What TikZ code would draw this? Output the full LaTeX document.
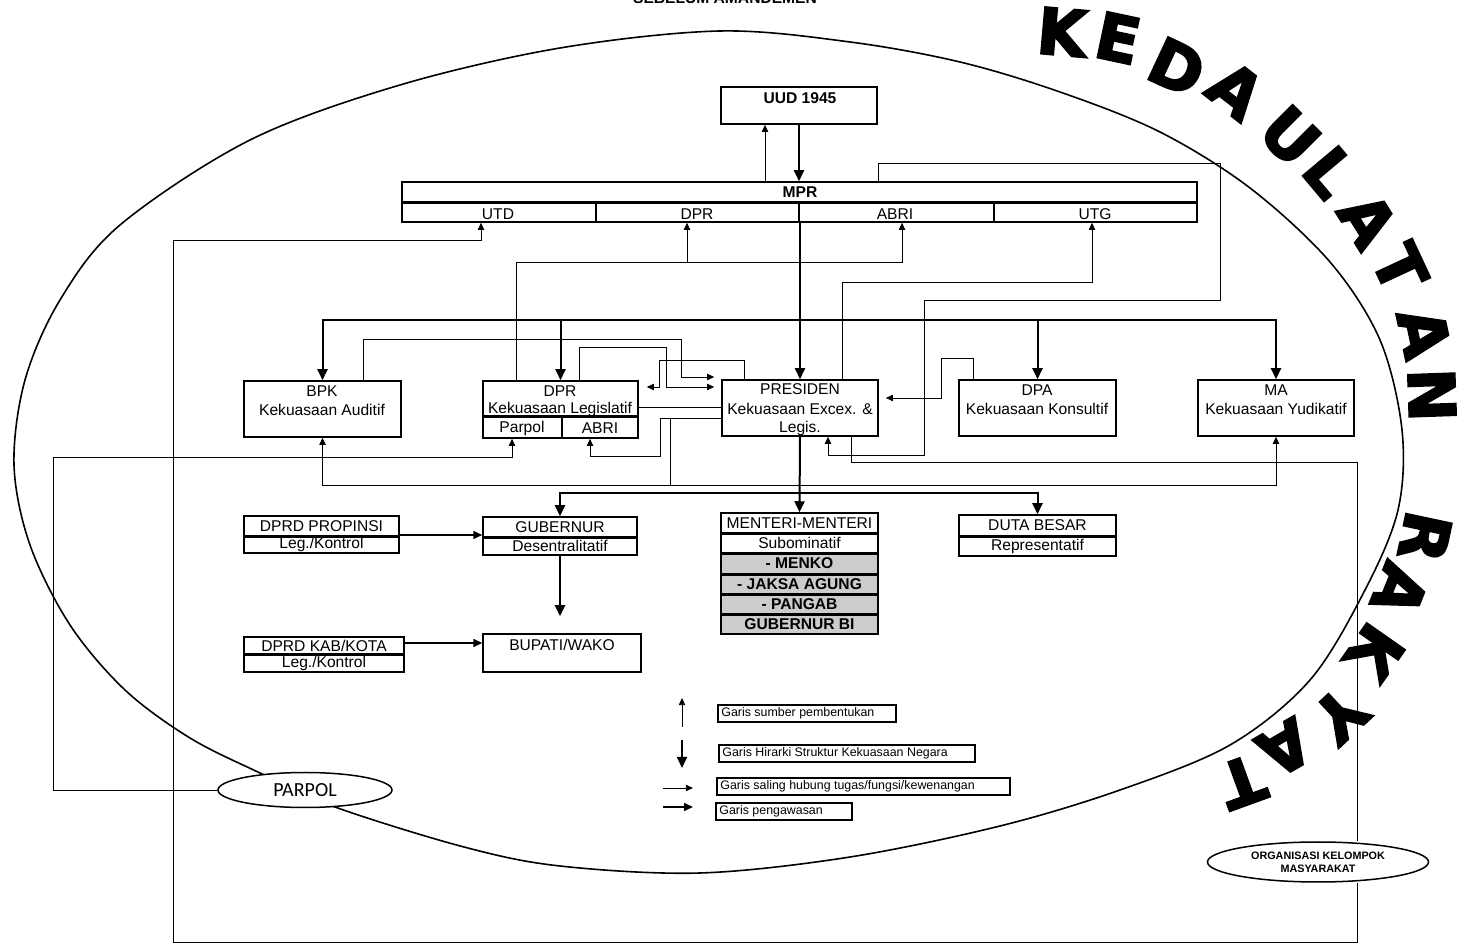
\documentclass[tikz,border=0pt]{standalone}
\usepackage{fontspec}
\setmainfont{Liberation Sans}
\newfontfamily\carl{Carlito}
\newfontfamily\heavy[FakeBold=3]{DejaVu Sans Bold}
\usetikzlibrary{arrows.meta,fit,shapes.geometric}
\begin{document}
\begin{tikzpicture}[x=0.5pt,y=-0.5pt,
  box/.style={draw, line width=0.75pt, inner sep=0pt},
  sbox/.style={box, fill=black!20},
  lbox/.style={draw, line width=0.75pt, inner sep=0pt},
  thickdiv/.style={line width=1.3pt},
  t7/.style={inner sep=0pt, font=\fontsize{7.8}{9}\selectfont},
  t7b/.style={inner sep=0pt, font=\fontsize{7.8}{9}\selectfont\bfseries},
  leg/.style={inner sep=0pt, font=\fontsize{6.2}{7}\selectfont, anchor=west},
  src/.style={line width=0.45pt, -{Triangle[length=3.6pt,width=3.2pt]}},
  hier/.style={line width=1pt, -{Triangle[length=5.5pt,width=5pt]}},
  peng/.style={line width=0.8pt, -{Triangle[length=4.5pt,width=4pt]}},
  con/.style={line width=0.45pt},
  big/.style={inner sep=0pt, font=\heavy\fontsize{32}{32}\selectfont},
]
\useasboundingbox (0,0) rectangle (1457,945);

% big ellipse (hand drawn)
\draw[line width=0.8pt] plot[smooth cycle, tension=0.55] coordinates {
 (720,31) (850,42) (960,62) (1060,92) (1160,132) (1250,188) (1330,262)
 (1380,340) (1402,430) (1398,510) (1365,590) (1310,680) (1230,745)
 (1120,790) (1000,826) (850,857) (700,873) (560,866) (464,847) (335,807)
 (260,773) (190,738) (125,690) (70,625) (30,545) (14,465) (25,380) (60,300) (120,225)
 (250,140) (400,85) (560,48)};

% title (cut at top)
\node[inner sep=0pt, font=\fontsize{7.8}{9}\selectfont\bfseries, anchor=base] (title) at (725,4) {SEBELUM AMANDEMEN};

% KEDAULATAN RAKYAT
\foreach \l/\x/\y/\r [count=\i] in {K/1062/32/-5, E/1118/38/-12, D/1177/67/-25,
  A/1236/90/-38, U/1290/136/-45, L/1330/172/-50, A/1368/220/-58, T/1400/268/-65,
  A/1424/333/-78, N/1432/395/-88, R/1425/537/-102, A/1400/590/-112, K/1375/652/-125,
  Y/1340/715/-137, A/1285/748/-150, T/1242/782/-160}
  \node[big, rotate=\r] (L\i) at (\x,\y) {\l};

% ---- boxes ----
\node[box, fit={(721,87)(877,124)}] (uud) {};
\node[t7b] (uudt) at (800,98) {UUD 1945};

\node[box, fit={(402,182)(1197,222)}] (mpr) {};
\node[t7b] (mprt) at (800,192) {MPR};
\node[box, fit={(402,203)(596,222)}] (utd) {};
\node[box, fit={(596,203)(799,222)}] (dprm) {};
\node[box, fit={(799,203)(994,222)}] (abrim) {};
\node[box, fit={(994,203)(1197,222)}] (utg) {};
\draw[thickdiv] (mpr.west |- utd.north) -- (mpr.east |- utd.north);
\node[t7] (utdt) at (498,214) {UTD};
\node[t7] (dprmt) at (697,214) {DPR};
\node[t7] (abrimt) at (895,214) {ABRI};
\node[t7] (utgt) at (1095,214) {UTG};

\node[box, fit={(244,381)(401,437)}] (bpk) {};
\node[t7] (bpkt1) at (322,391) {BPK};
\node[t7] (bpkt2) at (322,410) {Kekuasaan Auditif};

\node[box, fit={(483,381)(638,438)}] (dpr) {};
\node[box, fit={(483,417)(562,438)}] (dparpol) {};
\node[box, fit={(562,417)(638,438)}] (dabri) {};
\draw[thickdiv] (dparpol.north west) -- (dabri.north east);
\node[t7] (dprt1) at (560,391) {DPR};
\node[t7] (dprt2) at (560,409) {Kekuasaan Legislatif};
\node[t7] (dparpolt) at (522,428) {Parpol};
\node[t7] (dabrit) at (600,428) {ABRI};

\node[box, fit={(722,380)(878,436)}] (pres) {};
\node[t7] (prest1) at (800,389) {PRESIDEN};
\node[t7] (prest2) at (800,409) {Kekuasaan Excex. \&};
\node[t7] (prest3) at (800,428) {Legis.};

\node[box, fit={(959,380)(1116,436)}] (dpa) {};
\node[t7] (dpat1) at (1037,390) {DPA};
\node[t7] (dpat2) at (1037,409) {Kekuasaan Konsultif};

\node[box, fit={(1198,380)(1354,436)}] (ma) {};
\node[t7] (mat1) at (1276,390) {MA};
\node[t7] (mat2) at (1276,409) {Kekuasaan Yudikatif};

\node[box, fit={(244,516)(399,536)}] (dprdp) {};
\node[box, fit={(244,536)(399,553)}] (dprdpB) {};
\draw[thickdiv] (dprdp.south west) -- (dprdp.south east);
\node[t7] (dprdpt) at (dprdp.center) {DPRD PROPINSI};
\node[t7] (dprdpBt) at (dprdpB.center) {Leg./Kontrol};

\node[box, fit={(483,517)(637,537)}] (gub) {};
\node[box, fit={(483,537)(637,555)}] (gubB) {};
\draw[thickdiv] (gub.south west) -- (gub.south east);
\node[t7] (gubt) at (gub.center) {GUBERNUR};
\node[t7] (gubBt) at (gubB.center) {Desentralitatif};

\node[box, fit={(483,634)(641,672)}] (bupati) {};
\node[t7] (bupatit) at (562,645) {BUPATI/WAKO};

\node[box, fit={(244,637)(404,654)}] (dprdk) {};
\node[box, fit={(244,654)(404,672)}] (dprdkB) {};
\draw[thickdiv] (dprdk.south west) -- (dprdk.south east);
\node[t7] (dprdkt) at (dprdk.center) {DPRD KAB/KOTA};
\node[t7] (dprdkBt) at (dprdkB.center) {Leg./Kontrol};

\node[box, fit={(721,513)(878,533)}] (menteri) {};
\node[box, fit={(721,533)(878,553)}] (mt2) {};
\node[sbox, fit={(721,553)(878,574)}] (mt3) {};
\node[sbox, fit={(721,574)(878,594)}] (mt4) {};
\node[sbox, fit={(721,594)(878,614)}] (mt5) {};
\node[sbox, fit={(721,614)(878,634)}] (mt6) {};
\draw[thickdiv] (menteri.south west) -- (menteri.south east);
\draw[thickdiv] (mt2.south west) -- (mt2.south east);
\draw[thickdiv] (mt3.south west) -- (mt3.south east);
\draw[thickdiv] (mt4.south west) -- (mt4.south east);
\draw[thickdiv] (mt5.south west) -- (mt5.south east);
\node[t7] (mt1t) at (menteri.center) {MENTERI-MENTERI};
\node[t7] (mt2t) at (mt2.center) {Subominatif};
\node[t7b] (mt3t) at (mt3.center) {- MENKO};
\node[t7b] (mt4t) at (mt4.center) {- JAKSA AGUNG};
\node[t7b] (mt5t) at (mt5.center) {- PANGAB};
\node[t7b] (mt6t) at (mt6.center) {GUBERNUR BI};

\node[box, fit={(959,515)(1116,536)}] (duta) {};
\node[box, fit={(959,536)(1116,556)}] (dutaB) {};
\draw[thickdiv] (duta.south west) -- (duta.south east);
\node[t7] (dutat) at (duta.center) {DUTA BESAR};
\node[t7] (dutaBt) at (dutaB.center) {Representatif};

% ellipses
\node[draw, ellipse, fill=white, line width=0.75pt, minimum width=87pt, minimum height=17.5pt, inner sep=0pt,
  font=\carl\fontsize{10}{11}\selectfont] (parpol) at (305,790) {PARPOL};
\node[draw, ellipse, fill=white, line width=0.75pt, minimum width=110.5pt, minimum height=20pt, inner sep=0pt,
  align=center, font=\fontsize{5.4}{6.6}\selectfont\bfseries] (org) at (1318,862) {ORGANISASI KELOMPOK\\MASYARAKAT};

% ---- connectors ----
% UUD <-> MPR
\coordinate (c765) at (765,150);
\draw[src] (mpr.north -| c765) -- (uud.south -| c765);
\draw[hier] (uud.south) -- (uud.south |- mpr.north);

% MPR loop to Presiden
\coordinate (c878) at (878,163);
\coordinate (c1220a) at (1220,163);
\coordinate (c1220b) at (1220,300);
\coordinate (c924) at (924,455);
\coordinate (c828) at (828,455);
\draw[src] (mpr.north -| c878) -- (c878) -- (c1220a) -- (c1220b) -| (c924) -- (c828) -- (pres.south -| c828);

% MPR -> Presiden
\draw[hier] (mpr.south -| pres.north) -- (pres.north);

% hierarchy branch y=320
\coordinate (h320) at (800,320);
\draw[hier] (h320) -| (bpk.north);
\draw[hier] (h320) -| (dpr.north);
\draw[hier] (h320) -| (dpa.north);
\draw[hier] (h320) -| (ma.north);

% DPR -> MPR (DPR, ABRI)
\coordinate (c516) at (516,262);
\coordinate (c902) at (902,262);
\coordinate (c687) at (687,262);
\draw[src] (dpr.north -| c516) -- (c516) -- (c902) -- (abrim.south -| c902);
\draw[src] (c687) -- (dprm.south -| c687);

% Presiden -> UTG
\coordinate (c842) at (842,282);
\coordinate (c1092) at (1092,282);
\draw[src] (pres.north -| c842) -- (c842) -- (c1092) -- (utg.south -| c1092);

% Organisasi -> UTD
\coordinate (o1) at (1357,942);
\coordinate (o2) at (173,942);
\coordinate (o3) at (173,240);
\coordinate (o4) at (481,240);
\draw[src] (org.south -| o1) -- (o1) -- (o2) -- (o3) -- (o4) -- (utd.south -| o4);

% Presiden -> Organisasi
\coordinate (p1) at (851,462);
\coordinate (p2) at (1357,462);
\draw[con] (pres.south -| p1) -- (p1) -- (p2) -- (org.north -| p2);

% PARPOL -> Parpol (DPR)
\coordinate (q1) at (53,790);
\coordinate (q2) at (53,457);
\coordinate (q3) at (512,457);
\draw[src] (parpol.west) -- (q1) -- (q2) -- (q3) -- (dparpol.south -| q3);

% Presiden -> ABRI (DPR), BPK, MA
\coordinate (r1) at (660,418);
\coordinate (r2) at (670,418);
\coordinate (r3) at (670,485);
\coordinate (r4) at (590,456);
\draw[con] (pres.west |- r1) -- (r1);
\draw[src] (r1) |- (r4) -- (dabri.south -| r4);
\draw[src] (r2) -- (r3) -| (bpk.south);
\draw[src] (r3) -| (ma.south);

% BPK -> Presiden
\coordinate (s1) at (363,339);
\coordinate (s2) at (681,339);
\coordinate (s3) at (681,377);
\draw[src, shorten >=3.5pt] (bpk.north -| s1) -- (s1) -- (s2) -- (s3) -- (pres.west |- s3);

% DPR -> Presiden
\coordinate (u1) at (579,347);
\coordinate (u2) at (666,347);
\coordinate (u3) at (666,387);
\draw[src, shorten >=3.5pt] (dpr.north -| u1) -- (u1) -- (u2) -- (u3) -- (pres.west |- u3);

% Presiden -> DPR
\coordinate (v1) at (744,360);
\coordinate (v2) at (659,360);
\coordinate (v3) at (659,387);
\draw[src, shorten >=4pt] (pres.north -| v1) -- (v1) -- (v2) -- (v3) -- (dpr.east |- v3);

% DPR -- Presiden
\coordinate (w1) at (700,407);
\draw[con] (dpr.east |- w1) -- (pres.west |- w1);

% DPA -> Presiden
\coordinate (x1) at (973,358);
\coordinate (x2) at (941,358);
\coordinate (x3) at (941,398);
\draw[src, shorten >=3.5pt] (dpa.north -| x1) -- (x1) -- (x2) -- (x3) -- (pres.east |- x3);

% Presiden hierarchy down
\coordinate (h493) at (800,493);
\draw[hier] (pres.south) -- (menteri.north);
\draw[hier] (h493) -| (gub.north);
\draw[hier] (h493) -| (duta.north);

% DPRD -> Gubernur / Bupati
\coordinate (y1) at (440,535);
\draw[peng] (dprdp.east |- y1) -- (gub.west |- y1);
\draw[hier, shorten >=8.5pt] (gubB.south) -- (gubB.south |- bupati.north);
\coordinate (z1) at (440,643);
\draw[peng] (dprdk.east |- z1) -- (bupati.west |- z1);

% ---- legend ----
\coordinate (la1) at (682,727); \coordinate (la2) at (682,698);
\draw[src] (la1) -- (la2);
\coordinate (lb1) at (682,740); \coordinate (lb2) at (682,768);
\draw[hier] (lb1) -- (lb2);
\coordinate (lc1) at (663,788); \coordinate (lc2) at (693,788);
\draw[src] (lc1) -- (lc2);
\coordinate (ld1) at (663,807); \coordinate (ld2) at (693,807);
\draw[peng] (ld1) -- (ld2);

\node[lbox, fit={(718,705)(896,722)}] (lg1) {};
\node[leg] (lg1t) at (721,713.5) {Garis sumber pembentukan};
\node[lbox, fit={(719,745)(975,762)}] (lg2) {};
\node[leg] (lg2t) at (722,753.5) {Garis Hirarki Struktur Kekuasaan Negara};
\node[lbox, fit={(717,778)(1010,795)}] (lg3) {};
\node[leg] (lg3t) at (720,786.5) {Garis saling hubung tugas/fungsi/kewenangan};
\node[lbox, fit={(716,803)(852,820)}] (lg4) {};
\node[leg] (lg4t) at (719,811.5) {Garis pengawasan};

\end{tikzpicture}
\end{document}
